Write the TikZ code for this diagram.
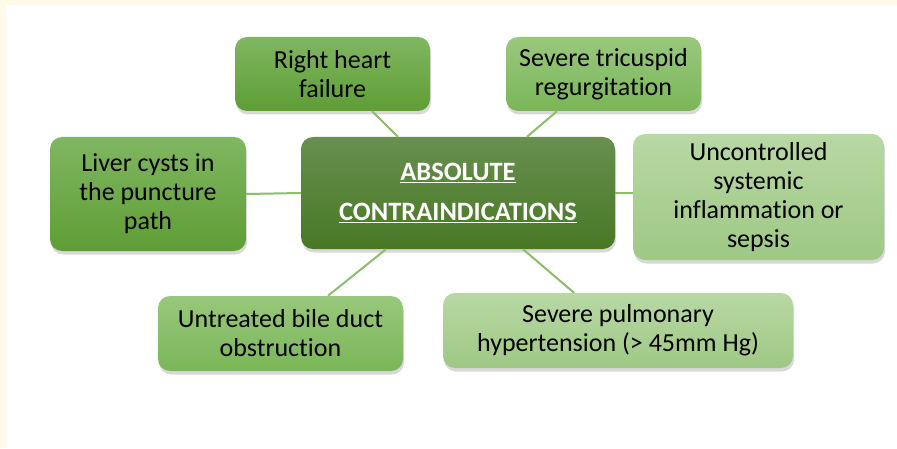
\documentclass[tikz,border=0pt]{standalone}
\usepackage{fontspec}
\setmainfont{Carlito}[Ligatures=NoCommon]
\usepackage{tikz}
\usetikzlibrary{calc}
\usetikzlibrary{shadows}
\usepackage{xcolor}

\definecolor{cream}{RGB}{255,250,232}
\definecolor{linkgreen}{RGB}{140,190,108}
\definecolor{darktop}{RGB}{104,143,80}
\definecolor{darkbot}{RGB}{72,120,36}
\definecolor{midtop}{RGB}{128,182,98}
\definecolor{midbot}{RGB}{94,158,52}
\definecolor{lighttop}{RGB}{152,200,124}
\definecolor{lightbot}{RGB}{122,182,88}
\definecolor{palettop}{RGB}{184,216,164}
\definecolor{palebot}{RGB}{158,200,132}

\tikzset{
  box/.style={rounded corners=12pt, align=center, font=\fontsize{26}{29}\selectfont,
    text=black, drop shadow={shadow xshift=1pt, shadow yshift=-3.5pt, opacity=0.3}},
  midbox/.style={box, top color=midtop, bottom color=midbot},
  lightbox/.style={box, top color=lighttop, bottom color=lightbot},
  palebox/.style={box, top color=palettop, bottom color=palebot},
  link/.style={draw=linkgreen, line width=2pt}
}

\begin{document}
\begin{tikzpicture}[x=1pt,y=1pt]
        \fill[cream] (0,0) rectangle (897,448);
        \fill[white] (6,0) rectangle (897,443);
        \useasboundingbox (0,0) rectangle (897,448);

        \node[box, top color=darktop, bottom color=darkbot, minimum width=314pt, minimum height=112pt,
              text=white, font=\bfseries\fontsize{26.5}{40}\selectfont] (abs) at (458,255)
              {\underline{ABSOLUTE}\\\underline{CONTRAINDICATIONS}};

        \node[midbox, minimum width=195pt, minimum height=74pt] (rhf) at (332.5,374) {Right heart\\failure};
        \node[lightbox, minimum width=195pt, minimum height=74pt] (tri) at (603.5,374) {Severe tricuspid\\regurgitation};
        \node[midbox, minimum width=196pt, minimum height=114pt] (liver) at (148,254) {Liver cysts in\\the puncture\\path};
        \node[palebox, minimum width=251pt, minimum height=126pt] (unc) at (758.5,251) {Uncontrolled\\systemic\\inflammation or\\sepsis};
        \node[lightbox, minimum width=245pt, minimum height=75pt] (bile) at (280.5,114.5) {Untreated bile duct\\obstruction};
        \node[palebox, minimum width=350pt, minimum height=75pt] (pulm) at (618,117.5) {Severe pulmonary\\hypertension (> 45mm Hg)};

        \draw[link] ([xshift=39.5pt]rhf.south) -- ([xshift=-60pt]abs.north);
        \draw[link] ([xshift=-46.5pt]tri.south) -- ([xshift=69pt]abs.north);
        \draw[link] (liver.east) -- (abs.west);
        \draw[link] (abs.east) -- (abs.east -| unc.west);
        \draw[link] ([xshift=-72pt]abs.south) -- ([xshift=47.5pt]bile.north);
        \draw[link] ([xshift=65pt]abs.south) -- ([xshift=-44pt]pulm.north);
    \end{tikzpicture}
\end{document}
